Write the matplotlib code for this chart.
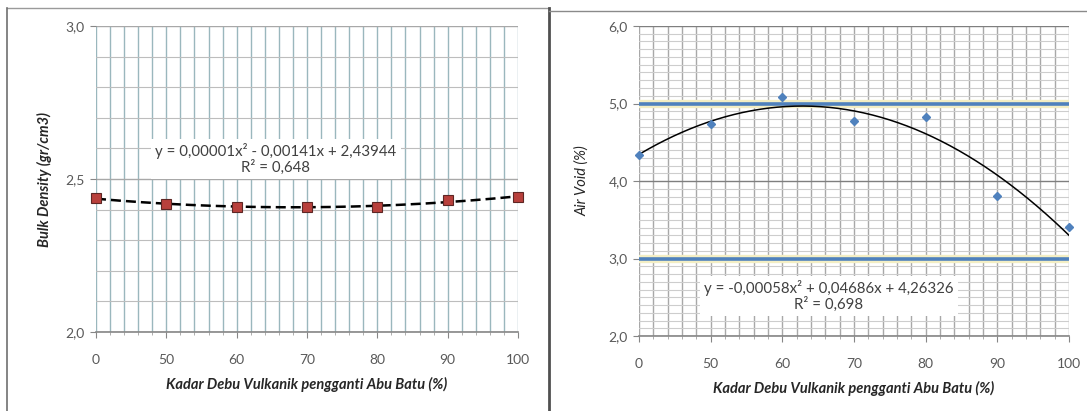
import numpy as np
import matplotlib
matplotlib.use("Agg")
import matplotlib.pyplot as plt
from matplotlib.lines import Line2D

plt.rcParams['font.family'] = ['Lato', 'DejaVu Sans']

# data
categories = ["0", "50", "60", "70", "80", "90", "100"]
bulk_density = [2.437, 2.418, 2.408, 2.410, 2.408, 2.432, 2.440]
air_void = [4.33, 4.73, 5.09, 4.77, 4.82, 3.81, 3.41]
void_limits = [3.0, 5.0]

bulk_eq = "y = 0,00001x\u00b2 - 0,00141x + 2,43944\nR\u00b2 = 0,648"
void_eq = "y = -0,00058x\u00b2 + 0,04686x + 4,26326\nR\u00b2 = 0,698"
xlabel = "Kadar Debu Vulkanik pengganti Abu Batu (%)"

W, H = 1087, 411
fig = plt.figure(figsize=(W / 100, H / 100), dpi=100)
fig.patch.set_facecolor("white")

def px_axes(x0, x1, ytop, ybot):
    return fig.add_axes([x0 / W, (H - ybot) / H, (x1 - x0) / W, (ybot - ytop) / H])

def style_axes(ax, ymin, ymax, ymajor, yminor, vcol, hcol, hmajcol):
    n = len(categories)
    ax.set_xlim(0, n - 1)
    ax.set_ylim(ymin, ymax)
    ax.set_xticks(range(n))
    ax.set_xticklabels(categories)
    ax.set_xticks(np.arange(0, n - 1 + 1e-6, 0.2), minor=True)
    yt = np.arange(ymin, ymax + 1e-6, ymajor)
    ax.set_yticks(yt)
    ax.set_yticklabels([f"{v:.1f}".replace(".", ",") for v in yt])
    ax.set_yticks(np.arange(ymin, ymax + 1e-6, yminor), minor=True)
    ax.grid(True, axis="x", which="both", color=vcol, lw=1.0, zorder=0)
    ax.grid(True, axis="y", which="minor", color=hcol, lw=0.8, zorder=0)
    ax.grid(True, axis="y", which="major", color=hmajcol, lw=1.0, zorder=0)
    for s in ["top", "right", "left"]:
        ax.spines[s].set_visible(False)
    ax.spines["bottom"].set_color("#868686")
    ax.spines["bottom"].set_linewidth(1.2)
    ax.tick_params(axis="y", which="major", length=4, color="#868686", pad=4,
                   labelsize=10, labelcolor="#595959")
    ax.tick_params(axis="y", which="minor", length=0)
    ax.tick_params(axis="x", which="major", length=4, color="#868686", pad=12,
                   labelsize=10, labelcolor="#595959")
    ax.tick_params(axis="x", which="minor", length=2.5, color="#a0a0a0")
    ax.set_axisbelow(True)
    ax.set_xlabel(xlabel, fontsize=10.5, fontstyle="italic", fontweight="bold",
                  color="#262626", labelpad=8)

xi = np.arange(len(categories))
xs = np.linspace(0, len(categories) - 1, 200)

# left: bulk density
ax1 = px_axes(96, 518, 26, 332)
style_axes(ax1, 2.0, 3.0, 0.5, 0.1, "#9ab7bd", "#bdbdbd", "#a8a8a8")
c1 = np.polyfit(xi, bulk_density, 2)
ax1.plot(xs, np.polyval(c1, xs), color="black", lw=1.8, ls=(0, (4, 2)), zorder=3)
ax1.plot(xi, bulk_density, ls="none", marker="s", ms=6.5, mfc="#b8403c",
         mec="#5e2624", mew=0.8, zorder=4, clip_on=False)
ax1.text(0.4265, 0.565, bulk_eq, transform=ax1.transAxes, ha="center", va="center",
         multialignment="center", fontsize=10.8, color="#404040", linespacing=1.1,
         bbox=dict(fc="white", ec="none", pad=3), zorder=5)
ax1.set_ylabel("Bulk Density (gr/cm3)", fontsize=10.5, fontstyle="italic",
               fontweight="bold", color="#262626", labelpad=10)

# right: air void
ax2 = px_axes(639, 1069, 26, 336)
style_axes(ax2, 2.0, 6.0, 1.0, 0.1, "#a8a8a8", "#cdcdcd", "#7f7f7f")
for lim in void_limits:
    ax2.axhline(lim, color="#f3eec4", lw=6, zorder=1)
    ax2.axhline(lim, color="#4f81bd", lw=2.6, zorder=2)
c2 = np.polyfit(xi, air_void, 2)
ax2.plot(xs, np.polyval(c2, xs), color="black", lw=1.1, zorder=3)
ax2.plot(xi, air_void, ls="none", marker="D", ms=4, mfc="#4f81bd", mec="#4f81bd",
         zorder=4, clip_on=False)
ax2.text(0.442, 0.129, void_eq, transform=ax2.transAxes, ha="center", va="center",
         multialignment="center", fontsize=10.8, color="#404040", linespacing=1.1,
         bbox=dict(fc="white", ec="none", pad=3), zorder=5)
ax2.set_ylabel("Air Void (%)", fontsize=10.5, fontstyle="italic",
               color="#262626", labelpad=14)

# panel frames
def fline(x0, y0, x1, y1, **kw):
    fig.add_artist(Line2D([x0 / W, x1 / W], [1 - y0 / H, 1 - y1 / H],
                          transform=fig.transFigure, **kw))

fline(7, 8, 549, 8, color="#9a9a9a", lw=1.0)
fline(7, 8, 7, H, color="#707070", lw=1.2)
fline(549, 8, 549, H, color="#505050", lw=2.0)
fline(549, 11, W, 11, color="#8a8a8a", lw=1.0)

fig.savefig("out.png", dpi=100)
